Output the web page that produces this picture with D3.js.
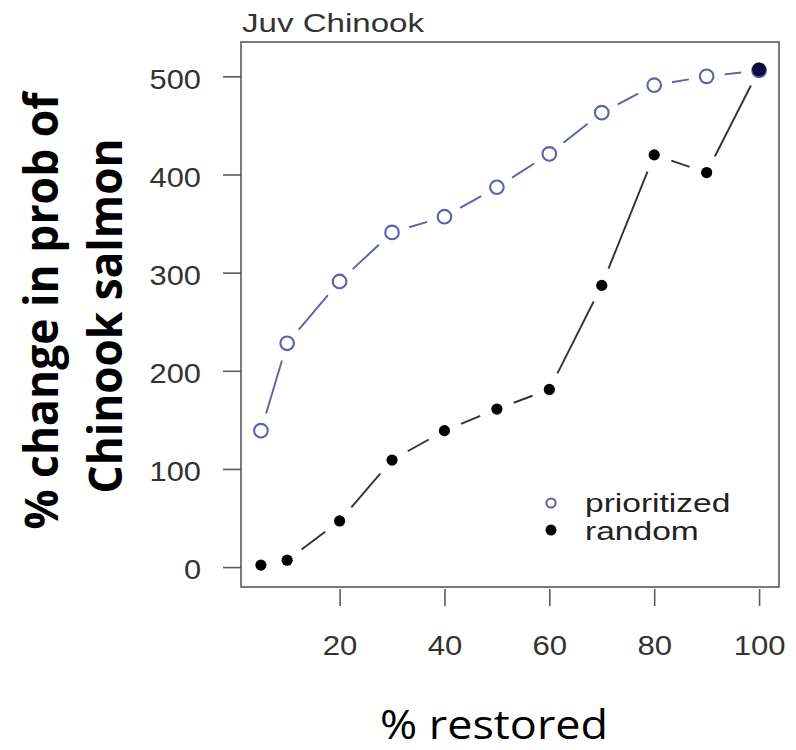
<!DOCTYPE html>
<html>
<head>
<meta charset="utf-8">
<script src="https://cdn.jsdelivr.net/npm/d3@7"></script>
<style>
html,body{margin:0;padding:0;background:#fff;}
svg{display:block;}
</style>
</head>
<body>
<svg id="chart" width="796" height="750"></svg>
<script>
const pctRestored = [5, 10, 20, 30, 40, 50, 60, 70, 80, 90, 100];
const prioritized = [139, 228, 291, 341, 357, 387, 421, 463, 491, 500, 506];
const random = [2, 7, 47, 109, 139, 161, 181, 287, 420, 402, 507];
const xTicks = [20, 40, 60, 80, 100];
const yTicks = [0, 100, 200, 300, 400, 500];
const seriesNames = ["prioritized", "random"];
const title = "Juv Chinook";
const yLabelLines = ["% change in prob of", "Chinook salmon"];
const xLabel = "% restored";

const svg = d3.select("#chart");
const L = 241, R = 779, T = 42, B = 587;
const x = d3.scaleLinear().domain([1.2, 103.8]).range([L, R]);
const y = d3.scaleLinear().domain([-20.3, 535]).range([B, T]);

const blue = "#5d61ab";
const axisCol = "#5a5a5a";
const txtCol = "#333";
const tickFont = "'Liberation Sans', Arial, sans-serif";
const labFont = "'Open Sans', 'Noto Sans', sans-serif";

// stretch text horizontally (the reference graphic is widened)
function stretch(sel, f) {
  sel.each(function () {
    const w = this.getComputedTextLength();
    d3.select(this).attr("textLength", w * f).attr("lengthAdjust", "spacingAndGlyphs");
  });
}

// box
svg.append("rect").attr("x", L).attr("y", T).attr("width", R - L).attr("height", B - T)
  .attr("fill", "none").attr("stroke", axisCol).attr("stroke-width", 1.6);

// y axis
const yAxis = d3.axisLeft(y).tickValues(yTicks).tickSize(18).tickPadding(22).tickFormat(d3.format("d"));
const gy = svg.append("g").attr("transform", `translate(${L},0)`).call(yAxis);
gy.select(".domain").remove();
gy.selectAll(".tick line").attr("stroke", axisCol).attr("stroke-width", 1.6);
gy.selectAll(".tick text").attr("fill", txtCol).attr("dy", "0.42em")
  .style("font-family", tickFont).style("font-size", "28px");
stretch(gy.selectAll(".tick text"), 1.1);

// x axis
const xAxis = d3.axisBottom(x).tickValues(xTicks).tickSize(17).tickPadding(20).tickFormat(d3.format("d"));
const gx = svg.append("g").attr("transform", `translate(0,${B + 2})`).call(xAxis);
gx.select(".domain").remove();
gx.selectAll(".tick line").attr("stroke", axisCol).attr("stroke-width", 1.6);
gx.selectAll(".tick text").attr("fill", txtCol).attr("dy", null).attr("y", 655 - (B + 2))
  .style("font-family", tickFont).style("font-size", "28px");
stretch(gx.selectAll(".tick text"), 1.11);

// type="b" style segments with gaps at points
function gapSegments(xs, ys, gap) {
  const segs = [];
  for (let i = 0; i < xs.length - 1; i++) {
    const x1 = x(xs[i]), y1 = y(ys[i]), x2 = x(xs[i + 1]), y2 = y(ys[i + 1]);
    const dx = x2 - x1, dy = y2 - y1, len = Math.hypot(dx, dy);
    if (len > 2 * gap) {
      const ux = dx / len, uy = dy / len;
      segs.push([x1 + ux * gap, y1 + uy * gap, x2 - ux * gap, y2 - uy * gap]);
    }
  }
  return segs;
}

function drawSeries(vals, color, lineColor, filled, gap) {
  const g = svg.append("g");
  g.selectAll("line").data(gapSegments(pctRestored, vals, gap)).join("line")
    .attr("x1", d => d[0]).attr("y1", d => d[1]).attr("x2", d => d[2]).attr("y2", d => d[3])
    .attr("stroke", lineColor).attr("stroke-width", 1.9);
  g.selectAll("circle").data(vals).join("circle")
    .attr("cx", (d, i) => x(pctRestored[i])).attr("cy", d => y(d))
    .attr("r", filled ? 5.6 : 6.8)
    .attr("fill", filled ? "#000" : "none")
    .attr("stroke", filled ? "none" : color)
    .attr("stroke-width", 2.1);
}

drawSeries(prioritized, blue, blue, false, 18);
drawSeries(random, "#000", "#333", true, 18);
// last point: the open circle under the black dot reads as a dark navy blob
svg.append("circle").attr("cx", x(pctRestored[10])).attr("cy", y(random[10])).attr("r", 7)
  .attr("fill", "#0b0b3c");

// title
svg.append("text").attr("x", 242).attr("y", 32).text(title)
  .attr("fill", txtCol).style("font-family", tickFont).style("font-size", "26px")
  .attr("textLength", 182).attr("lengthAdjust", "spacingAndGlyphs");

// legend
const lg = svg.append("g");
lg.append("circle").attr("cx", 551).attr("cy", 503).attr("r", 4.6).attr("fill", "none").attr("stroke", blue).attr("stroke-width", 2);
lg.append("circle").attr("cx", 551).attr("cy", 530).attr("r", 5.5).attr("fill", "#000");
const lt1 = lg.append("text").attr("x", 585).attr("y", 512).text(seriesNames[0])
  .attr("fill", "#222").style("font-family", tickFont).style("font-size", "26px");
const lt2 = lg.append("text").attr("x", 585).attr("y", 540).text(seriesNames[1])
  .attr("fill", "#222").style("font-family", tickFont).style("font-size", "26px");
stretch(lt1, 1.29);
stretch(lt2, 1.29);

// y label
svg.append("text").attr("transform", "translate(58,311) rotate(-90)")
  .attr("text-anchor", "middle").style("font-family", labFont)
  .style("font-weight", "bold").style("font-size", "47px").attr("fill", "#000")
  .attr("textLength", 437).attr("lengthAdjust", "spacingAndGlyphs")
  .text(yLabelLines[0]);
svg.append("text").attr("transform", "translate(122,316) rotate(-90)")
  .attr("text-anchor", "middle").style("font-family", labFont)
  .style("font-weight", "bold").style("font-size", "47px").attr("fill", "#000")
  .attr("textLength", 355).attr("lengthAdjust", "spacingAndGlyphs")
  .text(yLabelLines[1]);

// x label
svg.append("text").attr("x", 494).attr("y", 739).attr("text-anchor", "middle")
  .style("font-family", labFont).style("font-size", "40px")
  .attr("fill", "#000").attr("textLength", 228).attr("lengthAdjust", "spacingAndGlyphs")
  .text(xLabel);
</script>
</body>
</html>
